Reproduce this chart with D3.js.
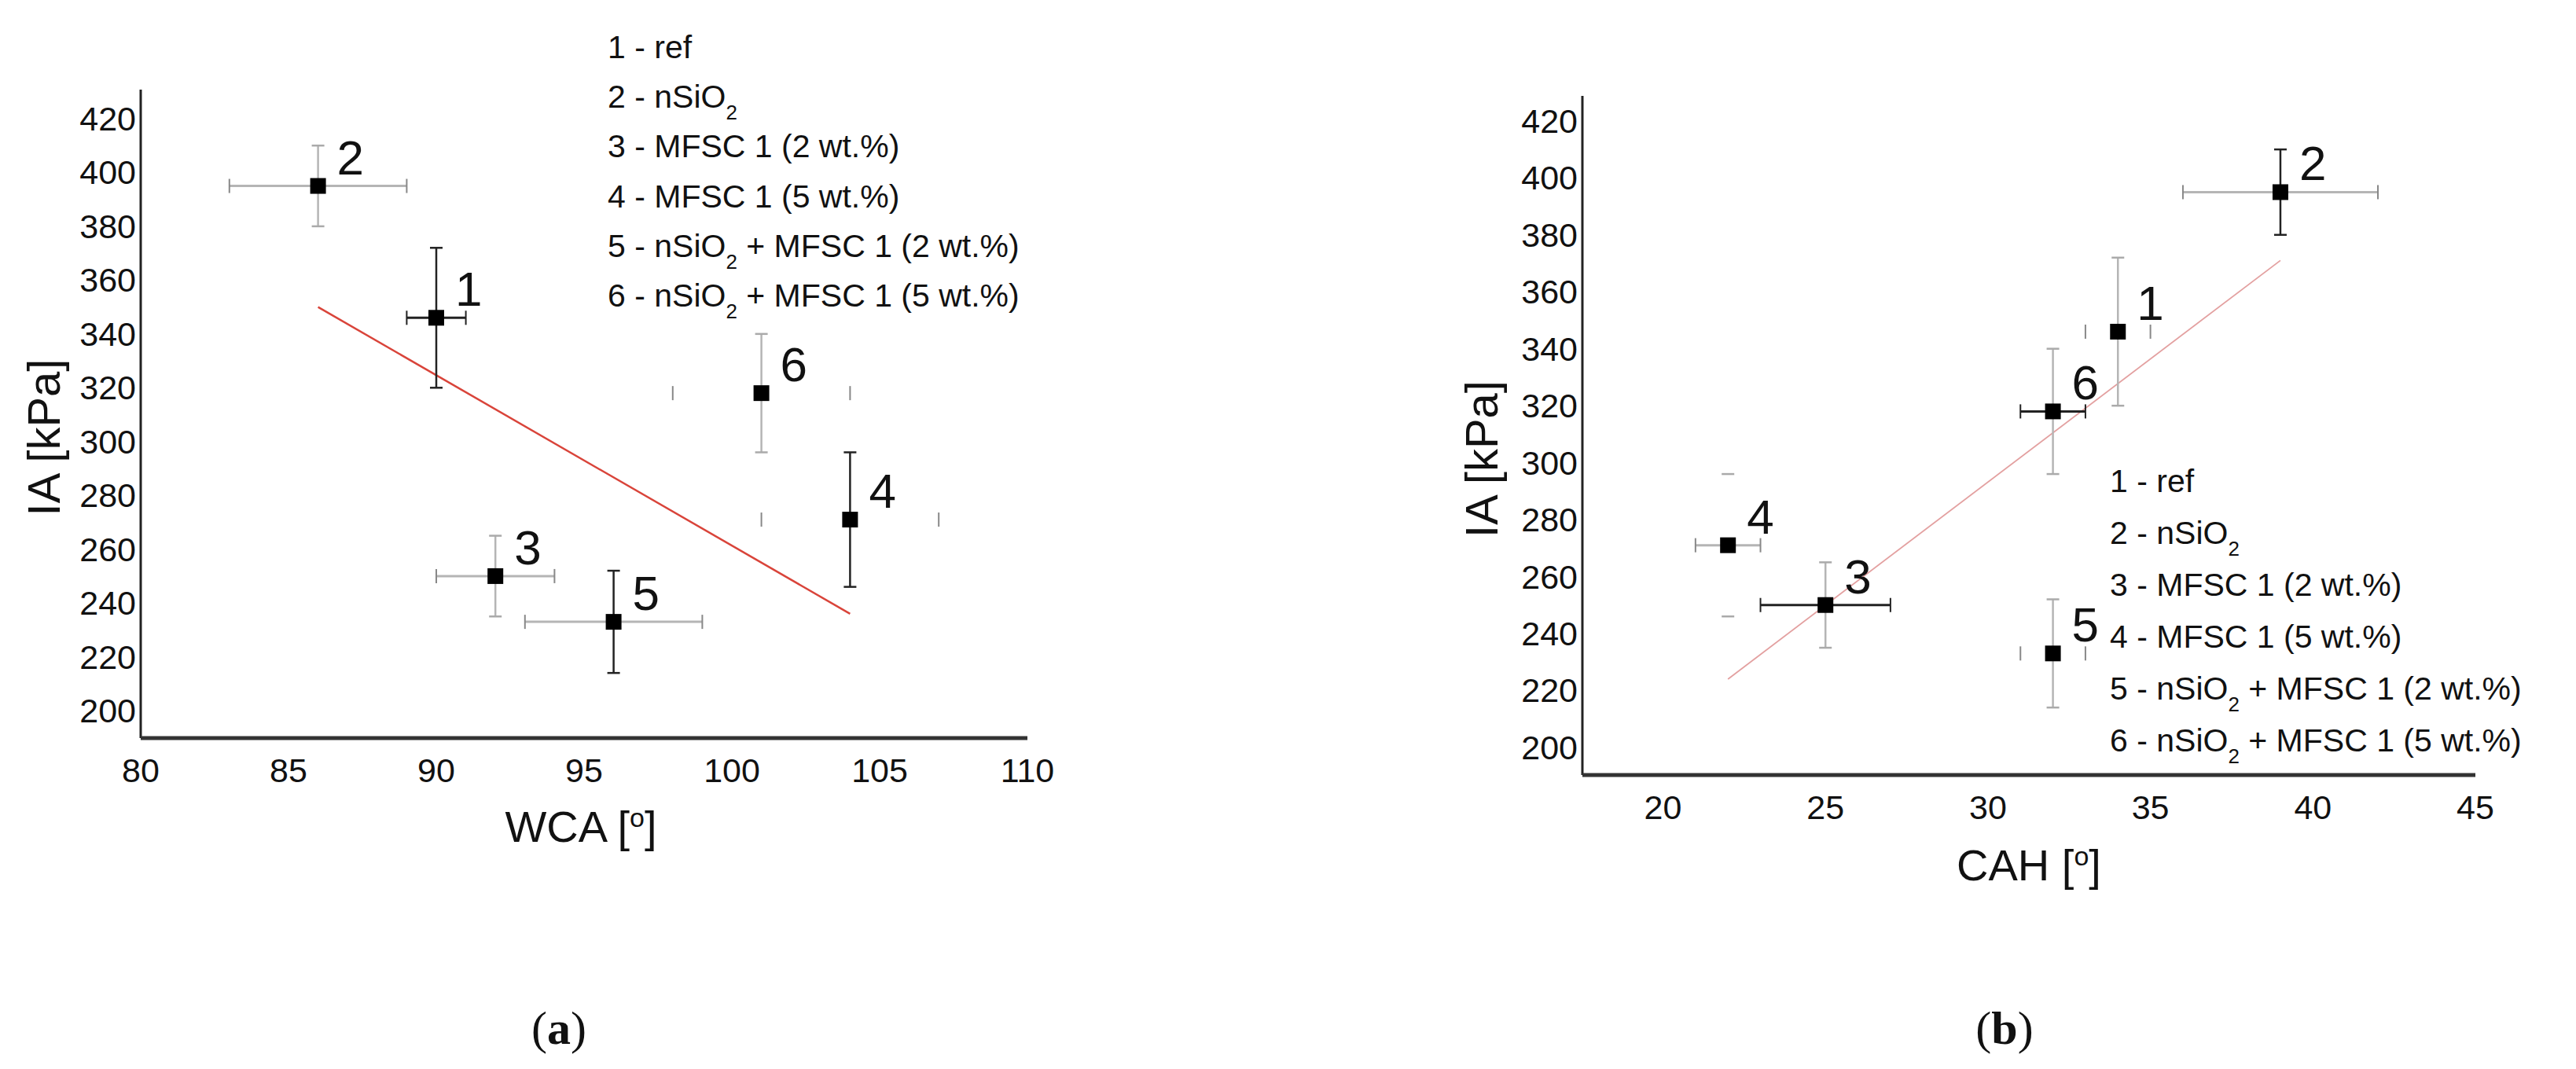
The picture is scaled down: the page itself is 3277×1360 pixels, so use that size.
<!DOCTYPE html>
<html>
<head>
<meta charset="utf-8">
<script src="https://cdn.jsdelivr.net/npm/d3@7"></script>
<style>
  body { margin: 0; background: #fff; }
  text { font-family: "Liberation Sans", Arial, sans-serif; fill: #111; }
</style>
</head>
<body>
<script>
const width = 3277;
const height = 1360;

// sample data
const ids = [1, 2, 3, 4, 5, 6];
const ia = [346, 395, 250, 271, 233, 318];
const iaErr = [26, 15, 15, 25, 19, 22];
const wca = [90, 86, 92, 104, 96, 101];
const wcaErr = [1, 3, 2, 3, 3, 3];
const cah = [34, 39, 25, 22, 32, 32];
const cahErr = [1, 3, 2, 1, 1, 1];
const legendNames = ['ref', 'nSiO2', 'MFSC 1 (2 wt.%)', 'MFSC 1 (5 wt.%)',
  'nSiO2 + MFSC 1 (2 wt.%)', 'nSiO2 + MFSC 1 (5 wt.%)'];
const wcaTicks = [80, 85, 90, 95, 100, 105, 110];
const cahTicks = [20, 25, 30, 35, 40, 45];
const iaTicks = [200, 220, 240, 260, 280, 300, 320, 340, 360, 380, 400, 420];
const wcaFit = [[86, 350], [104, 236]];
const cahFit = [[22, 224], [39, 371]];

const svg = d3.select('body').append('svg')
  .attr('width', width).attr('height', height);

// k = black, g = grey, c = caps only
const panels = [
  {
    xv: wca, xe: wcaErr, ticks: wcaTicks, fit: wcaFit, title: 'WCA',
    x: d3.scaleLinear().domain([80, 110]).range([179, 1307]),
    y: d3.scaleLinear().domain([189.8, 430.8]).range([939, 114]),
    xs: ['k', 'g', 'g', 'c', 'g', 'c'], ys: ['k', 'g', 'g', 'k', 'k', 'g'],
    fitColor: '#d9443a', fitWidth: 2.5,
    legend: [773, 59, 63.2], titleX: 739, titleY: 1051, ylabX: 56, tag: 'a', tagX: 711
  },
  {
    xv: cah, xe: cahErr, ticks: cahTicks, fit: cahFit, title: 'CAH',
    x: d3.scaleLinear().domain([17.52, 45]).range([2013, 3149]),
    y: d3.scaleLinear().domain([190.3, 428.8]).range([986, 122]),
    xs: ['c', 'g', 'k', 'g', 'c', 'k'], ys: ['g', 'k', 'g', 'c', 'g', 'g'],
    fitColor: '#e3a0a0', fitWidth: 1.8,
    legend: [2684, 611, 66], titleX: 2581, titleY: 1100, ylabX: 1885, tag: 'b', tagX: 2550
  }
];

const col = { k: '#222', g: '#b5b5b5', c: '#b5b5b5' };

function legendText(sel, i, name) {
  const parts = name.split('SiO2');
  sel.append('tspan').text(ids[i] + ' - ' + parts[0]);
  if (parts.length > 1) {
    sel.append('tspan').text('SiO');
    sel.append('tspan').attr('baseline-shift', 'sub').attr('font-size', 26).text('2');
    sel.append('tspan').text(parts[1]);
  }
}

panels.forEach(p => {
  const g = svg.append('g');
  const [y0, y1] = p.y.range();
  const [x0, x1] = p.x.range();

  // axes
  g.append('line').attr('x1', x0).attr('x2', x0).attr('y1', y0).attr('y2', y1)
    .attr('stroke', '#222').attr('stroke-width', 3);
  g.append('line').attr('x1', x0).attr('x2', x1).attr('y1', y0).attr('y2', y0)
    .attr('stroke', '#333').attr('stroke-width', 5);

  g.selectAll('.yt').data(iaTicks).enter().append('text')
    .attr('x', x0 - 6).attr('y', d => p.y(d) + 15)
    .attr('text-anchor', 'end').attr('font-size', 43).text(d => d);
  g.selectAll('.xt').data(p.ticks).enter().append('text')
    .attr('x', d => p.x(d)).attr('y', y0 + 56)
    .attr('text-anchor', 'middle').attr('font-size', 43).text(d => d);

  const yl = g.append('text')
    .attr('transform', `translate(${p.ylabX + 20},${(y0 + y1) / 2 + 30}) rotate(-90)`)
    .attr('text-anchor', 'middle').attr('font-size', 58);
  yl.text('IA [kPa]');

  const xl = g.append('text').attr('x', p.titleX).attr('y', p.titleY + 20)
    .attr('text-anchor', 'middle').attr('font-size', 56);
  xl.append('tspan').text(p.title + ' [');
  xl.append('tspan').attr('baseline-shift', 'super').attr('font-size', 34).text('o');
  xl.append('tspan').text(']');

  // fit line
  g.append('line')
    .attr('x1', p.x(p.fit[0][0])).attr('y1', p.y(p.fit[0][1]))
    .attr('x2', p.x(p.fit[1][0])).attr('y2', p.y(p.fit[1][1]))
    .attr('stroke', p.fitColor).attr('stroke-width', p.fitWidth);

  // error bars
  ids.forEach((id, i) => {
    const cx = p.x(p.xv[i]);
    const cy = p.y(ia[i]);
    const xa = p.x(p.xv[i] - p.xe[i]);
    const xb = p.x(p.xv[i] + p.xe[i]);
    const ya = p.y(ia[i] - iaErr[i]);
    const yb = p.y(ia[i] + iaErr[i]);
    const xs = p.xs[i], ys = p.ys[i];
    if (xs !== 'c') {
      g.append('line').attr('x1', xa).attr('x2', xb).attr('y1', cy).attr('y2', cy)
        .attr('stroke', col[xs]).attr('stroke-width', xs === 'k' ? 3 : 3);
    }
    [xa, xb].forEach(xx => g.append('line').attr('x1', xx).attr('x2', xx)
      .attr('y1', cy - 9).attr('y2', cy + 9).attr('stroke', xs === 'k' ? '#222' : '#888').attr('stroke-width', 2));
    if (ys !== 'c') {
      g.append('line').attr('x1', cx).attr('x2', cx).attr('y1', ya).attr('y2', yb)
        .attr('stroke', col[ys]).attr('stroke-width', 2.5);
    }
    [ya, yb].forEach(yy => g.append('line').attr('x1', cx - 8).attr('x2', cx + 8)
      .attr('y1', yy).attr('y2', yy).attr('stroke', ys === 'k' ? '#222' : '#aaa').attr('stroke-width', 2.5));
  });

  g.selectAll('.pt').data(ids).enter().append('rect')
    .attr('x', (d, i) => p.x(p.xv[i]) - 10).attr('y', (d, i) => p.y(ia[i]) - 10)
    .attr('width', 20).attr('height', 20).attr('fill', '#000');

  g.selectAll('.lb').data(ids).enter().append('text')
    .attr('x', (d, i) => p.x(p.xv[i]) + 24).attr('y', (d, i) => p.y(ia[i]) - 15)
    .attr('font-size', 62).text(d => d);

  // legend
  legendNames.forEach((name, i) => {
    const t = g.append('text').attr('x', p.legend[0])
      .attr('y', p.legend[1] + i * p.legend[2] + 15).attr('font-size', 41);
    legendText(t, i, name);
  });

  const tg = svg.append('text').attr('x', p.tagX).attr('y', 1328)
    .attr('text-anchor', 'middle').attr('font-size', 60)
    .style('font-family', '"Liberation Serif", "Times New Roman", serif');
  tg.append('tspan').text('(');
  tg.append('tspan').attr('font-weight', 'bold').text(p.tag);
  tg.append('tspan').text(')');
});
</script>
</body>
</html>
